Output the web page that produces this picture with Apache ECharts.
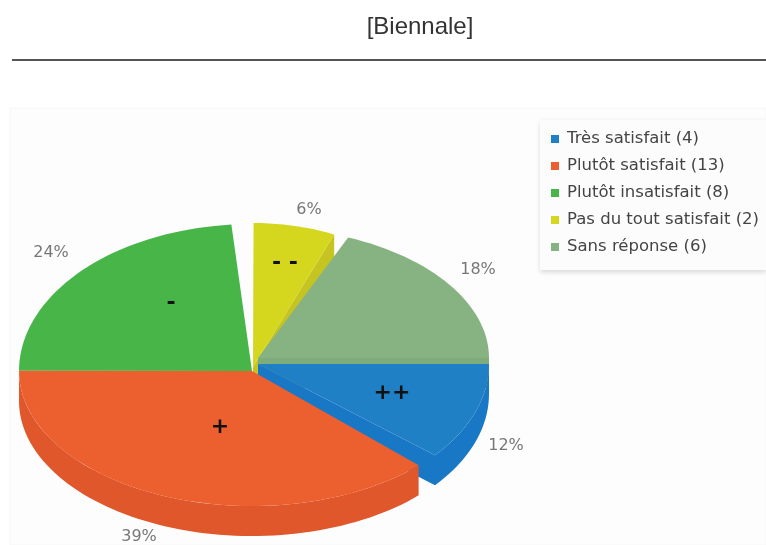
<!DOCTYPE html>
<html>
<head>
<meta charset="utf-8">
<title>Biennale</title>
<style>
  html, body { margin: 0; padding: 0; background: #fff; }
  #main { width: 766px; height: 545px; }
</style>
</head>
<body>
<div id="main"></div>
<script src="https://cdn.jsdelivr.net/npm/echarts@6/dist/echarts.min.js"></script>
<script>
var categories = ['Très satisfait', 'Plutôt satisfait', 'Plutôt insatisfait', 'Pas du tout satisfait', 'Sans réponse'];
var counts = [4, 13, 8, 2, 6];
var percentLabels = ['12%', '39%', '24%', '6%', '18%'];
var signLabels = ['++', '+', '-', '- -', ''];

// look of each slice, same order as categories
var faceColors = ['#1f80c6', '#ec5f2f', '#48b549', '#d5d71f', '#87b382'];
var wallColors = ['#1878c6', '#df572a', '#3fa540', '#c6c420', '#7fac7b'];
// trim = degrees shaved off the slice ends, that is the white gaps of the photo
var geometry = [
  { cx: 258, cy: 364, rx: 231, ry: 142, radialWall: true, outerWall: true, trimEnd: 3 },
  { cx: 252, cy: 371, rx: 233, ry: 135, outerWall: true, trimStart: 1.5 },
  { cx: 252, cy: 371, rx: 233, ry: 147, trimEnd: 5 },
  { cx: 253, cy: 367, rx: 208, ry: 144, radialWall: true },
  { cx: 258, cy: 358, rx: 231, ry: 131, radialWall: true }
];
var depth = 30;
var percentPos = [[506, 446], [139, 537], [51, 253], [309, 210], [478, 270]];
var signPos = [[392, 393], [220, 427], [171, 303], [285, 263], [0, 0]];
// back slices first so the front ones cover them
var drawOrder = [3, 2, 4, 0, 1];

var total = counts.reduce(function (a, b) { return a + b; }, 0);
var startAngles = [];
counts.reduce(function (acc, c, i) { startAngles[i] = acc; return acc + c / total * 360; }, 0);

// the photo is in perspective, so angles get squeezed a little toward the left
function warp(deg) {
  var s = Math.sin(deg / 2 * Math.PI / 180);
  return deg - 5.4 * s * s;
}
function rimPoint(g, deg, shift) {
  var t = warp(deg) * Math.PI / 180;
  return [g.cx + g.rx * Math.cos(t), g.cy + g.ry * Math.sin(t) + (shift || 0)];
}
function arcPoints(g, from, to, shift) {
  var pts = [];
  var steps = Math.max(8, Math.round((to - from) / 2));
  for (var i = 0; i <= steps; i++) pts.push(rimPoint(g, from + (to - from) * i / steps, shift));
  return pts;
}

function renderSlice(i) {
  return function (params, api) {
    var g = geometry[i];
    var from = api.value(0) + (g.trimStart || 0);
    var to = api.value(0) + api.value(1) / total * 360 - (g.trimEnd || 0);
    var children = [];
    var apex = [g.cx, g.cy];
    if (g.radialWall) {
      var tip = rimPoint(g, to);
      children.push({
        type: 'polygon',
        shape: { points: [apex, tip, [tip[0], tip[1] + depth], [apex[0], apex[1] + depth]] },
        style: { fill: wallColors[i] }
      });
    }
    if (g.outerWall) {
      var wallEnd = Math.min(to, 185.4);
      var wall = arcPoints(g, from, wallEnd).concat(arcPoints(g, from, wallEnd, depth).reverse());
      children.push({ type: 'polygon', shape: { points: wall }, style: { fill: wallColors[i] } });
    }
    children.push({
      type: 'polygon',
      shape: { points: [apex].concat(arcPoints(g, from, to)) },
      style: { fill: faceColors[i] }
    });
    children.push({
      type: 'text',
      style: {
        text: percentLabels[i], x: percentPos[i][0], y: percentPos[i][1],
        align: 'center', verticalAlign: 'middle',
        font: '16px "DejaVu Sans"', fill: '#777'
      }
    });
    if (signLabels[i]) {
      children.push({
        type: 'text',
        style: {
          text: signLabels[i], x: signPos[i][0], y: signPos[i][1],
          align: 'center', verticalAlign: 'middle',
          font: 'bold 22px "DejaVu Sans"', fill: '#111'
        }
      });
    }
    return { type: 'group', children: children };
  };
}

var legendNames = categories.map(function (c, i) { return c + ' (' + counts[i] + ')'; });

var series = drawOrder.map(function (i) {
  return {
    type: 'custom',
    name: legendNames[i],
    coordinateSystem: 'none',
    silent: true,
    itemStyle: { color: faceColors[i] },
    renderItem: renderSlice(i),
    data: [[startAngles[i], counts[i]]]
  };
});

var chart = echarts.init(document.getElementById('main'));
chart.setOption({
  animation: false,
  backgroundColor: '#fff',
  legend: {
    data: legendNames,
    orient: 'vertical',
    left: 540, top: 120,
    padding: [10, 7, 14, 11],
    icon: 'rect',
    itemWidth: 8, itemHeight: 8, itemGap: 9,
    selectedMode: false,
    backgroundColor: '#fdfcfc',
    shadowColor: 'rgba(0,0,0,0.16)', shadowBlur: 5, shadowOffsetY: 2,
    textStyle: { fontFamily: 'DejaVu Sans', fontSize: 16.5, color: '#444', lineHeight: 18, padding: [0, 0, 0, 3] }
  },
  graphic: [
    { type: 'rect', z: -1, shape: { x: 10, y: 108, width: 756, height: 437 }, style: { fill: '#fefdfd', stroke: '#f6f6f6' } },
    { type: 'line', shape: { x1: 12, y1: 60, x2: 766, y2: 60 }, style: { stroke: '#555', lineWidth: 2 } },
    {
      type: 'text', x: 420, y: 27,
      style: {
        text: '[Biennale]', align: 'center', verticalAlign: 'middle',
        font: '24px "Liberation Sans"', fill: '#333'
      }
    }
  ],
  series: series
});
</script>
</body>
</html>
